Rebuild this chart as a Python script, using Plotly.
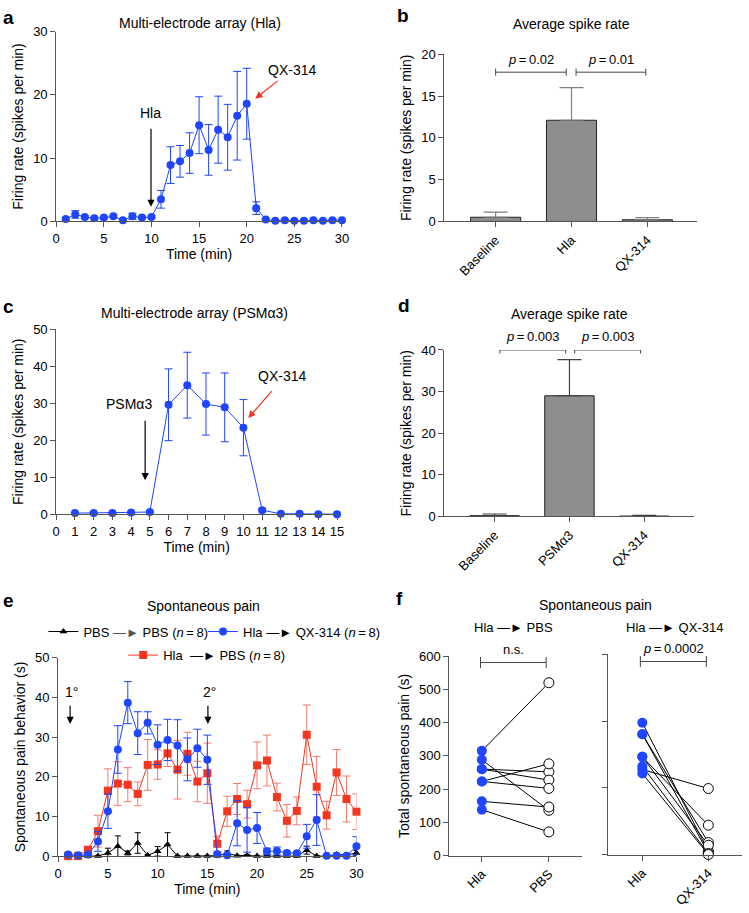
import plotly.graph_objects as go

FONT = "Liberation Sans, Arial, Helvetica, sans-serif"
BLUE = "#1f45ff"
RED = "#f2361f"
REDERR = "#f77a6c"
AX = "#555555"
TICK = 13
TTL = 14
ARW = "—►"
TS = "\u2009"

# ---------------- data ----------------
# Panel a: Multi-electrode array (Hla)
a_time = list(range(1, 31))
a_rate = [0.4, 1.1, 0.7, 0.5, 0.6, 0.8, 0.2, 0.8, 0.6, 0.7, 3.5, 8.9, 9.5, 10.8, 15.2,
          11.3, 14.5, 13.3, 16.7, 18.6, 2.1, 0.3, 0.1, 0.2, 0.1, 0.1, 0.2, 0.1, 0.2, 0.2]
a_err = [0.2, 0.6, 0.2, 0.1, 0.2, 0.2, 0.1, 0.5, 0.2, 0.2, 1.4, 2.9, 2.5, 3.2, 4.5,
         4.0, 5.3, 5.2, 7.0, 5.6, 1.0, 0.1, 0.1, 0.1, 0.1, 0.1, 0.1, 0.1, 0.1, 0.1]

# Panel b: Average spike rate (Hla)
b_cats = ["Baseline", "Hla", "QX-314"]
b_vals = [0.5, 12.1, 0.2]
b_err = [0.6, 3.9, 0.25]
b_pvals = [f"<i>p</i>{TS}={TS}0.02", f"<i>p</i>{TS}={TS}0.01"]

# Panel c: Multi-electrode array (PSMα3)
c_time = list(range(1, 16))
c_rate = [0.3, 0.3, 0.3, 0.5, 0.6, 29.6, 34.9, 29.8, 28.9, 23.4, 1.1, 0.1, 0.1, 0.0, 0.0]
c_err = [0.1, 0.1, 0.1, 0.2, 0.2, 9.7, 8.9, 8.4, 9.3, 7.6, 0.5, 0.1, 0.1, 0.0, 0.0]

# Panel d: Average spike rate (PSMα3)
d_cats = ["Baseline", "PSMα3", "QX-314"]
d_vals = [0.2, 29.0, 0.1]
d_err = [0.4, 8.7, 0.2]
d_pvals = [f"<i>p</i>{TS}={TS}0.003", f"<i>p</i>{TS}={TS}0.003"]

# Panel e: Spontaneous pain time course
e_time = list(range(1, 31))
e_pbs = [0.0, 0.0, 0.0, 0.0, 0.8, 2.5, 0.8, 3.3, 0.2, 1.2, 2.9, 0.0, 0.0, 0.0, 0.0,
         0.1, 0.7, 0.1, 0.2, 0.0, 0.0, 0.0, 0.0, 0.0, 1.5, 0.0, 0.0, 0.4, 0.3, 0.8]
e_pbs_err = [0.1, 0.1, 0.1, 0.1, 1.2, 2.6, 0.5, 2.6, 0.2, 1.2, 3.0, 0.1, 0.1, 0.1, 0.1,
             0.1, 0.6, 0.1, 0.2, 0.1, 0.1, 0.1, 0.1, 0.1, 1.0, 0.1, 0.1, 0.4, 0.3, 0.6]
e_qx = [0.4, 0.2, 0.4, 3.7, 11.3, 26.9, 38.7, 31.0, 33.6, 28.1, 29.3, 27.9, 24.4, 27.2, 24.3,
        0.5, 0.2, 8.3, 6.6, 7.1, 1.2, 1.3, 0.8, 0.7, 5.0, 9.1, 0.1, 0.1, 0.1, 2.5]
e_qx_err = [0.2, 0.2, 0.3, 2.5, 4.3, 6.0, 5.3, 5.4, 2.8, 5.0, 5.2, 6.5, 5.4, 4.8, 6.2,
            0.3, 0.3, 5.7, 5.6, 3.9, 0.8, 1.0, 0.4, 0.4, 3.0, 6.4, 0.1, 0.1, 0.2, 2.4]
e_pbs2 = [0.0, 0.0, 1.6, 6.3, 16.5, 18.3, 18.0, 15.7, 23.0, 23.1, 25.9, 21.8, 25.8, 18.8, 20.9,
          3.1, 11.3, 14.4, 13.1, 22.9, 24.1, 14.9, 8.9, 11.4, 30.6, 17.5, 10.3, 21.1, 14.4, 11.2]
e_pbs2_err = [0.1, 0.1, 0.8, 4.0, 5.5, 5.5, 4.3, 3.0, 6.4, 3.7, 3.3, 7.4, 5.4, 5.1, 7.6,
              1.9, 3.8, 3.9, 3.5, 5.9, 6.4, 3.5, 4.1, 3.5, 7.5, 7.6, 3.5, 5.8, 5.8, 4.5]

# Panel f: Total spontaneous pain (paired)
f1_cats = ["Hla", "PBS"]
f1_before = [315, 288, 260, 260, 223, 223, 163, 138]
f1_after = [520, 136, 252, 227, 276, 202, 146, 71]
f2_cats = ["Hla", "QX-314"]
f2_before = [395, 361, 361, 293, 293, 265, 255, 243]
f2_after = [10, 36, 5, 88, 28, 3, 198, 0]

# ---------------- figure ----------------
W, H = 749, 913
fig = go.Figure()


def dx(p0, p1):
    return [p0 / W, p1 / W]


def dy(ptop, pbot):
    return [1 - pbot / H, 1 - ptop / H]


def axstyle(**kw):
    d = dict(showline=True, linecolor=AX, linewidth=1, ticks="outside", ticklen=5,
             tickcolor=AX, tickwidth=1, showgrid=False, zeroline=False,
             tickfont=dict(family=FONT, size=TICK, color="black"),
             title_font=dict(family=FONT, size=TTL, color="black"))
    d.update(kw)
    return d


lay = {}
# panel a
lay["xaxis"] = axstyle(domain=dx(53, 343), anchor="y", range=[0, 30], tickvals=[0, 5, 10, 15, 20, 25, 30],
                       title=dict(text="Time (min)", standoff=2))
lay["yaxis"] = axstyle(domain=dy(25, 218), anchor="x", range=[0, 30], tickvals=[0, 10, 20, 30],
                       title=dict(text="Firing rate (spikes per min)", standoff=6))
# panel b
lay["xaxis2"] = axstyle(domain=dx(447, 703), anchor="y2", range=[-0.675, 2.65], tickvals=[0, 1, 2],
                        ticktext=b_cats, tickangle=-45)
lay["yaxis2"] = axstyle(domain=dy(48, 218), anchor="x2", range=[0, 20], tickvals=[0, 5, 10, 15, 20],
                        title=dict(text="Firing rate (spikes per min)", standoff=6))
# panel c
lay["xaxis3"] = axstyle(domain=dx(53, 338), anchor="y3", range=[0, 15], tickvals=list(range(16)),
                        title=dict(text="Time (min)", standoff=2))
lay["yaxis3"] = axstyle(domain=dy(327.7, 515.7), anchor="x3", range=[0, 50], tickvals=[0, 10, 20, 30, 40, 50],
                        title=dict(text="Firing rate (spikes per min)", standoff=6))
# panel d
lay["xaxis4"] = axstyle(domain=dx(447, 700), anchor="y4", range=[-0.67, 2.66], tickvals=[0, 1, 2],
                        ticktext=d_cats, tickangle=-45)
lay["yaxis4"] = axstyle(domain=dy(348.7, 518), anchor="x4", range=[0, 40], tickvals=[0, 10, 20, 30, 40],
                        title=dict(text="Firing rate (spikes per min)", standoff=6))
# panel e
lay["xaxis5"] = axstyle(domain=dx(55, 357.7), anchor="y5", range=[0, 30], tickvals=[0, 5, 10, 15, 20, 25, 30],
                        title=dict(text="Time (min)", standoff=2))
lay["yaxis5"] = axstyle(domain=dy(661.7, 863.3), anchor="x5", range=[0, 50], tickvals=[0, 10, 20, 30, 40, 50],
                        title=dict(text="Spontaneous pain behavior (s)", standoff=6))
# panel f left
lay["xaxis6"] = axstyle(domain=dx(452, 587), anchor="y6", range=[-0.485, 1.5], tickvals=[0, 1],
                        ticktext=f1_cats, tickangle=-45)
lay["yaxis6"] = axstyle(domain=dy(660, 862.7), anchor="x6", range=[0, 600], tickvals=list(range(0, 601, 100)),
                        title=dict(text="Total spontaneous pain (s)", standoff=6))
# panel f right
lay["xaxis7"] = axstyle(domain=dx(613, 749), anchor="y7", range=[-0.52, 1.51], tickvals=[0, 1],
                        ticktext=f2_cats, tickangle=-45)
lay["yaxis7"] = axstyle(domain=dy(658.3, 861.7), anchor="x7", range=[0, 600], tickvals=[0, 200, 400, 600],
                        showticklabels=False)


def err(arr, color, width=4, thick=1):
    return dict(type="data", array=arr, visible=True, color=color, thickness=thick, width=width)


# ---- panel a
fig.add_trace(go.Scatter(x=a_time, y=a_rate, mode="lines+markers", xaxis="x", yaxis="y",
                         line=dict(color=BLUE, width=1), marker=dict(color=BLUE, size=8),
                         error_y=err(a_err, BLUE), cliponaxis=False, showlegend=False))
# ---- panel b
fig.add_trace(go.Bar(x=[0, 1, 2], y=b_vals, xaxis="x2", yaxis="y2", width=0.66,
                     marker=dict(color="#8e8e8e", line=dict(color="#222", width=1)),
                     error_y=dict(type="data", array=b_err, arrayminus=[0, 0, 0], symmetric=False,
                                  color="#808080", thickness=1.2, width=12),
                     showlegend=False))
# ---- panel c
fig.add_trace(go.Scatter(x=c_time, y=c_rate, mode="lines+markers", xaxis="x3", yaxis="y3",
                         line=dict(color=BLUE, width=1), marker=dict(color=BLUE, size=8),
                         error_y=err(c_err, BLUE), cliponaxis=False, showlegend=False))
# ---- panel d
fig.add_trace(go.Bar(x=[0, 1, 2], y=d_vals, xaxis="x4", yaxis="y4", width=0.66,
                     marker=dict(color="#8e8e8e", line=dict(color="#222", width=1)),
                     error_y=dict(type="data", array=d_err, arrayminus=[0, 0, 0], symmetric=False,
                                  color="#404040", thickness=1.2, width=12),
                     showlegend=False))
# ---- panel e
fig.add_trace(go.Scatter(x=e_time, y=e_pbs, mode="lines+markers", xaxis="x5", yaxis="y5",
                         name=f"PBS <span style='color:#555'>{ARW}</span> PBS (<i>n</i>{TS}={TS}8)",
                         line=dict(color="black", width=1), marker=dict(color="black", size=7, symbol="triangle-up"),
                         error_y=err(e_pbs_err, "black", 3), cliponaxis=False, legend="legend"))
fig.add_trace(go.Scatter(x=e_time, y=e_pbs2, mode="lines+markers", xaxis="x5", yaxis="y5",
                         name=f"Hla  {ARW} PBS (<i>n</i>{TS}={TS}8)",
                         line=dict(color=RED, width=1), marker=dict(color=RED, size=8, symbol="square"),
                         error_y=err(e_pbs2_err, REDERR, 4), cliponaxis=False, legend="legend2"))
fig.add_trace(go.Scatter(x=e_time, y=e_qx, mode="lines+markers", xaxis="x5", yaxis="y5",
                         name=f"Hla {ARW} QX-314 (<i>n</i>{TS}={TS}8)",
                         line=dict(color=BLUE, width=1), marker=dict(color=BLUE, size=8),
                         error_y=err(e_qx_err, BLUE, 4), cliponaxis=False, legend="legend3"))


# ---- panel f
def pairs(before, after):
    xs, ys = [], []
    for b, a in zip(before, after):
        xs += [0, 1, None]
        ys += [b, a, None]
    return xs, ys


for xa, ya, bef, aft in [("x6", "y6", f1_before, f1_after), ("x7", "y7", f2_before, f2_after)]:
    px, py = pairs(bef, aft)
    fig.add_trace(go.Scatter(x=px, y=py, mode="lines", xaxis=xa, yaxis=ya,
                             line=dict(color="black", width=1), showlegend=False, cliponaxis=False))
    fig.add_trace(go.Scatter(x=[0] * len(bef), y=bef, mode="markers", xaxis=xa, yaxis=ya,
                             marker=dict(color=BLUE, size=10), showlegend=False, cliponaxis=False))
    fig.add_trace(go.Scatter(x=[1] * len(aft), y=aft, mode="markers", xaxis=xa, yaxis=ya,
                             marker=dict(color="white", size=10, line=dict(color="black", width=1)),
                             showlegend=False, cliponaxis=False))

# ---------------- annotations ----------------
ann = []


def ptext(text, x, y, size=TTL, bold=False, xanchor="center"):
    t = f"<b>{text}</b>" if bold else text
    ann.append(dict(text=t, x=x / W, y=1 - y / H, xref="paper", yref="paper", showarrow=False,
                    xanchor=xanchor, yanchor="middle", font=dict(family=FONT, size=size, color="black")))


# panel letters
for letter, x, y in [("a", 5, 11), ("b", 405, 9), ("c", 5, 304), ("d", 406, 303), ("e", 5, 603), ("f", 401, 601)]:
    ptext(letter, x, y, size=19, bold=True)
# panel titles
ptext("Multi-electrode array (Hla)", 199, 16)
ptext("Average spike rate", 576, 17)
ptext("Multi-electrode array (PSMα3)", 193, 311)
ptext("Average spike rate", 574, 312)
ptext("Spontaneous pain", 202, 609)
ptext("Spontaneous pain", 600, 608)
ptext(f"Hla {ARW} PBS", 517, 631, size=13)
ptext(f"Hla {ARW} QX-314", 680, 631, size=13)


def arrow(xr, yr, x, y, ax, ay, color="black"):
    ann.append(dict(text="", x=x, y=y, ax=ax, ay=ay, xref=xr, yref=yr, axref=xr, ayref=yr,
                    showarrow=True, arrowhead=2, arrowsize=1.2, arrowwidth=1.2, arrowcolor=color))


def dtext(xr, yr, text, x, y, size=TTL):
    ann.append(dict(text=text, x=x, y=y, xref=xr, yref=yr, showarrow=False,
                    font=dict(family=FONT, size=size, color="black")))


# panel a arrows
arrow("x", "y", 9.95, 2.3, 9.95, 14.9)
dtext("x", "y", "Hla", 9.95, 17.1)
arrow("x", "y", 20.9, 19.4, 23.4, 22.4, color=RED)
dtext("x", "y", "QX-314", 24.8, 23.95)
# panel c arrows
arrow("x3", "y3", 4.75, 9.2, 4.75, 25.7)
dtext("x3", "y3", "PSMα3", 3.9, 29.7)
arrow("x3", "y3", 10.26, 26.0, 11.58, 33.7, color=RED)
dtext("x3", "y3", "QX-314", 12.05, 37.4)
# panel e arrows
arrow("x5", "y5", 1.2, 33.3, 1.2, 38.3)
dtext("x5", "y5", "1°", 1.3, 41.3)
arrow("x5", "y5", 15.06, 33.3, 15.06, 38.3)
dtext("x5", "y5", "2°", 15.26, 41.3)

# significance brackets
shapes = []


def bracket(xr, yr, x0, x1, y, label, cap=3.5, lsize=13, shift=13, color="#444"):
    shapes.append(dict(type="line", xref=xr, yref=yr, x0=x0, x1=x1, y0=y, y1=y,
                       line=dict(color=color, width=1)))
    for xx in (x0, x1):
        shapes.append(dict(type="line", xref=xr, yref=yr, x0=xx, x1=xx, ysizemode="pixel", yanchor=y,
                           y0=-cap, y1=cap, line=dict(color=color, width=1)))
    ann.append(dict(text=label, x=(x0 + x1) / 2, y=y, xref=xr, yref=yr, yshift=shift, showarrow=False,
                    font=dict(family=FONT, size=lsize, color="black")))


bracket("x2", "y2", 0.0, 0.93, 17.85, b_pvals[0])
bracket("x2", "y2", 1.06, 1.98, 17.85, b_pvals[1])
bracket("x4", "y4", 0.07, 0.95, 40.0, d_pvals[0])
bracket("x4", "y4", 1.07, 1.95, 40.0, d_pvals[1])
bracket("x6", "y6", -0.02, 0.96, 581, "n.s.", cap=5.5, shift=13)
bracket("x7", "y7", -0.03, 0.97, 579, f"<i>p</i>{TS}={TS}0.0002", cap=5.5, shift=13)


def leg(x, y):
    return dict(orientation="h", x=x / W, y=1 - y / H, xanchor="left", yanchor="middle",
                font=dict(family=FONT, size=13), itemwidth=30, bgcolor="rgba(0,0,0,0)")


fig.update_layout(
    width=W, height=H, margin=dict(l=0, r=0, t=0, b=0),
    paper_bgcolor="white", plot_bgcolor="white",
    font=dict(family=FONT, size=TICK, color="black"),
    annotations=ann, shapes=shapes,
    legend=leg(40, 635), legend3=leg(202, 635), legend2=leg(121, 659),
    **lay,
)

fig.write_html("out.html", config={"displayModeBar": False},
               post_script="document.body.style.margin='0';")
